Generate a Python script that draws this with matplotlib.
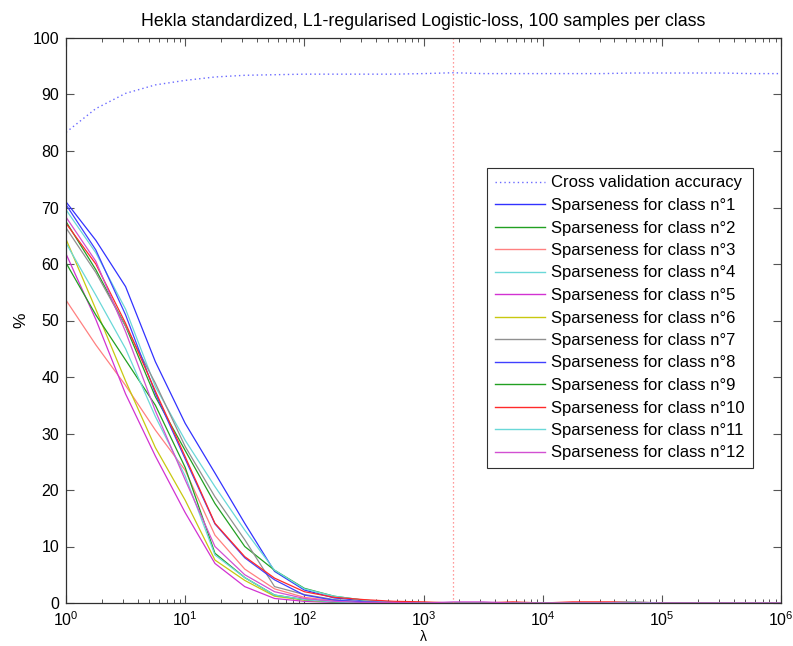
import numpy as np
import matplotlib
matplotlib.use("Agg")
import matplotlib.pyplot as plt
from matplotlib.ticker import (FixedLocator, LogLocator, LogFormatterMathtext,
                               MultipleLocator, NullFormatter)

plt.rcParams['font.family'] = ['Liberation Sans', 'DejaVu Sans']
plt.rcParams['mathtext.fontset'] = 'custom'
plt.rcParams['mathtext.rm'] = 'Liberation Sans'
plt.rcParams['mathtext.it'] = 'Liberation Sans:italic'

# Regularisation path: quarter-decade steps from 1 to 1e6
lambdas = np.logspace(0, 6, 25)

# Cross validation accuracy (%) along the path
cv_accuracy = [83.3, 87.5, 90.2, 91.7, 92.5, 93.1, 93.4, 93.5, 93.6, 93.6,
               93.6, 93.6, 93.7, 93.85, 93.7, 93.7, 93.7, 93.7, 93.7, 93.8,
               93.8, 93.8, 93.8, 93.7, 93.7]

# Sparseness (% of non-zero weights) per class, first 11 steps of the path
head = {
    1:  [71.0, 64.2, 56.0, 42.7, 31.8, 23.0, 14.1, 5.6, 2.3, 0.9, 0.4],
    2:  [67.5, 59.0, 49.0, 36.5, 27.0, 17.6, 10.0, 5.8, 2.6, 1.2, 0.5],
    3:  [53.6, 45.7, 38.5, 30.6, 23.5, 12.0, 6.0, 2.5, 1.0, 0.4, 0.1],
    4:  [69.6, 62.0, 52.0, 38.3, 28.8, 20.6, 12.9, 5.8, 2.5, 1.2, 0.5],
    5:  [61.8, 50.2, 37.0, 26.0, 16.0, 7.0, 2.9, 0.8, 0.3, 0.1, 0.0],
    6:  [64.4, 52.0, 39.3, 27.5, 18.2, 7.6, 4.0, 1.2, 0.5, 0.2, 0.0],
    7:  [66.4, 58.5, 49.0, 38.9, 27.7, 18.8, 11.2, 2.9, 1.5, 0.6, 0.2],
    8:  [70.5, 62.5, 51.0, 37.1, 25.5, 14.0, 8.0, 4.1, 1.4, 0.5, 0.2],
    9:  [60.2, 51.0, 43.0, 35.0, 24.0, 8.8, 4.5, 1.4, 0.6, 0.2, 0.0],
    10: [67.2, 60.0, 49.5, 37.5, 25.9, 14.1, 8.2, 4.4, 2.0, 1.0, 0.6],
    11: [63.7, 54.5, 45.0, 33.0, 22.5, 8.5, 4.5, 1.4, 0.6, 0.2, 0.0],
    12: [68.3, 60.5, 48.0, 34.0, 21.8, 10.0, 5.0, 2.0, 0.8, 0.3, 0.1],
}
# Remaining 14 steps (mostly fully sparse)
tail = {
    1:  [0.1, 0, 0, 0, 0, 0, 0, 0, 0, 0, 0, 0, 0, 0],
    2:  [0.1, 0, 0, 0, 0, 0, 0, 0, 0, 0, 0, 0, 0, 0],
    3:  [0.1, 0, 0, 0, 0, 0, 0, 0, 0, 0, 0, 0, 0, 0],
    4:  [0.1, 0, 0, 0, 0, 0, 0, 0, 0, 0, 0, 0, 0, 0],
    5:  [0, 0, 0, 0, 0, 0, 0, 0, 0, 0, 0, 0, 0, 0],
    6:  [0, 0, 0, 0, 0, 0, 0, 0, 0, 0, 0, 0, 0, 0],
    7:  [0, 0, 0, 0, 0, 0, 0, 0, 0, 0, 0, 0, 0, 0],
    8:  [0.1, 0, 0, 0, 0, 0, 0, 0, 0, 0, 0, 0, 0, 0],
    9:  [0, 0, 0, 0, 0, 0, 0, 0, 0, 0, 0, 0, 0, 0],
    10: [0.3, 0.2, 0, 0, 0.2, 0, 0.2, 0.2, 0.2, 0, 0, 0, 0, 0],
    11: [0, 0, 0, 0, 0, 0, 0, 0, 0.2, 0, 0, 0, 0, 0],
    12: [0.1, 0, 0.2, 0.2, 0, 0, 0, 0, 0, 0, 0, 0, 0, 0],
}

class_colors = {
    1: '#3232ff', 2: '#22a022', 3: '#ff8080', 4: '#6ad8d8',
    5: '#d232d2', 6: '#c8c810', 7: '#909090', 8: '#4040ff',
    9: '#22a022', 10: '#ff2a2a', 11: '#6ad8d8', 12: '#d250d2',
}

x_major_ticks = [1e0, 1e1, 1e2, 1e3, 1e4, 1e5, 1e6]

fig = plt.figure(figsize=(7.93, 6.46), dpi=100)
ax = fig.add_axes([66 / 793, 1 - 603 / 646, (781 - 66) / 793, (603 - 38) / 646])

ax.plot(lambdas, cv_accuracy, linestyle=(0, (1, 2.2)), color='#6a6aff', lw=1.0,
        label='Cross validation accuracy')

for c in range(1, 13):
    ax.plot(lambdas, head[c] + tail[c], color=class_colors[c], lw=0.9,
            label='Sparseness for class n°%d' % c)

best_lambda = lambdas[int(np.argmax(cv_accuracy))]
ax.plot([best_lambda, best_lambda], [0, 100], linestyle=(0, (1, 2.2)),
        color='#ff7a7a', lw=0.9)

ax.set_xscale('log')
ax.set_xlim(1, 1e6)
ax.set_ylim(0, 100)
ax.xaxis.set_major_locator(FixedLocator(x_major_ticks))
ax.xaxis.set_major_formatter(LogFormatterMathtext())
ax.xaxis.set_minor_locator(LogLocator(base=10, subs=np.arange(2, 10), numticks=100))
ax.xaxis.set_minor_formatter(NullFormatter())
ax.yaxis.set_major_locator(MultipleLocator(10))

ax.tick_params(which='both', direction='in', top=True, right=True,
               color='#555555', labelsize=11.5, labelcolor='black')
ax.tick_params(which='major', length=6, width=0.8, pad=5)
ax.tick_params(which='minor', length=3, width=0.7)
for sp in ax.spines.values():
    sp.set_color('#303030')
    sp.set_linewidth(0.9)

ax.set_title('Hekla standardized, L1-regularised Logistic-loss, 100 samples per class',
             fontsize=12.8, pad=9)
ax.set_xlabel('λ', fontsize=10, labelpad=1)
ax.set_ylabel('%', fontsize=12.5, labelpad=3)

leg = ax.legend(loc='upper left', bbox_to_anchor=(487 / 793, 1 - 168 / 646),
                bbox_transform=fig.transFigure, fontsize=12, frameon=True,
                fancybox=False, shadow=False, framealpha=1, handlelength=3.05,
                labelspacing=0.45, borderpad=0.45, handletextpad=0.36,
                borderaxespad=0)
leg.get_frame().set_edgecolor('#303030')
leg.get_frame().set_linewidth(0.8)
for h in leg.get_lines():
    h.set_linewidth(1.0)

fig.savefig('out.png', dpi=100, facecolor='white')
